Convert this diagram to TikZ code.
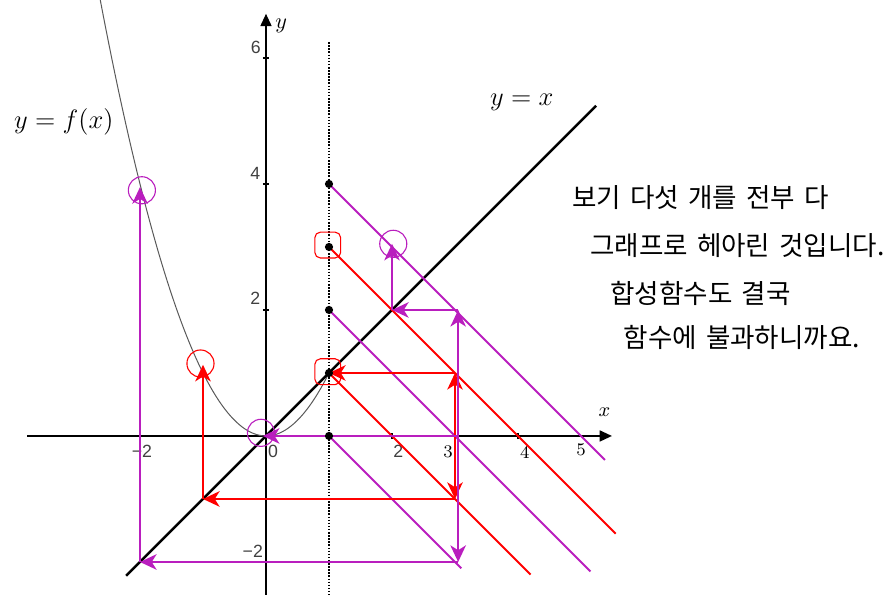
\documentclass[tikz,border=0pt]{standalone}
\usepackage{fontspec}
\newfontfamily\krfont{Noto Sans CJK KR}
\newfontfamily\axfont{Liberation Sans}
\usetikzlibrary{positioning,arrows.meta,calc}
\definecolor{magL}{RGB}{185,30,190}
\newcommand\krset{\krfont\fontsize{12}{14}\selectfont\spaceskip=0.34em\relax}

\begin{document}
\begin{tikzpicture}[every node/.style={font=\small},
    magline/.style={draw=magL,line width=0.9pt},
    redline/.style={draw=red,line width=0.9pt},
    arr/.style={-{Stealth[length=7.5pt,width=7pt,inset=2.2pt]}},
    blackdot/.style={circle,fill=black,inner sep=0pt,minimum size=0.13cm},
    mark circ/.style={circle,line width=0.5pt,minimum size=0.43cm,inner sep=0pt},
    mark box/.style={draw=red,line width=0.5pt,rounded corners=2.5pt,minimum size=0.41cm,inner sep=0pt},
    numlab/.style={inner sep=0pt,text=black!75,font=\axfont\fontsize{8}{9}\selectfont},
    cmlab/.style={inner sep=0pt,font=\fontsize{8}{9}\selectfont},
    krline/.style={anchor=west,inner sep=0pt,font=\krset}]
  \useasboundingbox (-4.222,-2.524) rectangle (9.92,6.92);
  % axes
  \coordinate (xl) at (-3.79,0); \coordinate (xr) at (5.49,0);
  \coordinate (yb) at (0,-2.524); \coordinate (yt) at (0,6.7);
  \draw[line width=0.6pt,-{Triangle[length=5.5pt,width=5pt]}] (xl)--(xr);
  \draw[line width=0.6pt,-{Triangle[length=5.5pt,width=5pt]}] (yb)--(yt);
  \foreach \t in {-2,2,4} \draw[line width=0.5pt] (\t,-0.05)--(\t,0.05);
  \foreach \t in {-2,2,4,6} \draw[line width=0.5pt] (-0.05,\t)--(0.05,\t);
  \node[numlab] (txm2) at (-1.97,-0.24) {−2};
  \node[numlab] (tx0) at (0.11,-0.25) {0};
  \node[numlab] (tx2) at (2.1,-0.24) {2};
  \node[cmlab] (tx3) at (2.89,-0.25) {3};
  \node[cmlab] (tx4) at (4.11,-0.27) {4};
  \node[cmlab] (tx5) at (5.0,-0.22) {5};
  \node[numlab] (ty6) at (-0.16,6.17) {6};
  \node[numlab] (ty4) at (-0.17,4.17) {4};
  \node[numlab] (ty2) at (-0.17,2.19) {2};
  \node[numlab] (tym2) at (-0.21,-1.83) {−2};
  \node[font=\fontsize{9}{10}\selectfont] (xlab) at (5.37,0.37) {$x$};
  \node[font=\fontsize{10}{12}\selectfont] (ylab) at (0.24,6.51) {$y$};
  % graph of f and the line y=x
  \draw[black!65,line width=0.45pt,domain=-2.63:1,samples=80] plot (\x,{\x*\x});
  \coordinate (dl) at (-2.22,-2.22); \coordinate (dr) at (5.24,5.24);
  \draw[line width=1.1pt] (dl)--(dr);
  \coordinate (vt) at (1,6.25); \coordinate (vb) at (1,-2.524);
  \draw[line width=0.7pt,dash pattern=on 0.7pt off 0.7pt] (vt)--(vb);
  \node[font=\fontsize{12}{14}\selectfont] (flab) at (-3.21,4.98) {$y=f(x)$};
  \node[font=\fontsize{12}{14}\selectfont] (idlab) at (4.06,5.29) {$y=x$};
  % the five lines
  \foreach \k in {0,...,4} \coordinate (a\k) at (1,\k);
  \coordinate (e4) at (5.38,-0.38); \coordinate (e3) at (5.55,-1.55);
  \coordinate (e2) at (5.15,-2.15); \coordinate (e1) at (4.2,-2.2);
  \coordinate (e0) at (3.1,-2.1);
  \draw[magline] (a4)--(e4); \draw[redline] (a3)--(e3); \draw[magline] (a2)--(e2);
  \draw[redline] (a1)--(e1); \draw[magline] (a0)--(e0);
  % red steps
  \coordinate (r0) at (3,0); \coordinate (r1) at (3,1); \coordinate (rm) at (3,-1);
  \coordinate (rn) at (-1,-1); \coordinate (rf) at (-1,1.13);
  \draw[redline,arr] (r0)--(r1); \draw[redline,arr] (r0)--(rm);
  \draw[redline,arr] (r1)--(a1); \draw[redline,arr] (rm)--(rn); \draw[redline,arr] (rn)--(rf);
  % magenta steps
  \coordinate (m0) at (3.05,0); \coordinate (m1) at (3.05,2); \coordinate (mm) at (3.05,-2);
  \coordinate (mq) at (2,2); \coordinate (mt) at (2,3.05);
  \coordinate (mn) at (-2,-2); \coordinate (mf) at (-2,3.95); \coordinate (mo) at (-0.05,0);
  \draw[magline,arr] (m0)--(m1); \draw[magline,arr] (m0)--(mm); \draw[magline,arr] (m0)--(mo);
  \draw[magline,arr] (m1)--(mq); \draw[magline,arr] (mq)--(mt);
  \draw[magline,arr] (mm)--(mn); \draw[magline,arr] (mn)--(mf);
  % marks
  \node[mark circ,draw=magL] (cma) at (-1.97,3.9) {};
  \node[mark circ,draw=red] (cra) at (-1.04,1.15) {};
  \node[mark circ,draw=magL] (cmb) at (-0.08,0.05) {};
  \node[mark circ,draw=magL] (cmc) at (2.02,3.05) {};
  \node[mark box] (sqa) at (0.98,3.03) {};
  \node[mark box] (sqb) at (0.98,1.02) {};
  \foreach \k in {0,...,4} \node[blackdot] (dot\k) at (a\k) {};
  % text
  \node[krline] (kra) at (4.857,3.79) {보기 다섯 개를 전부 다};
  \node[krline] (krb) at (5.14,3.03) {그래프로 헤아린 것입니다.};
  \node[krline] (krc) at (5.46,2.27) {합성함수도 결국};
  \node[krline] (krd) at (5.67,1.57) {함수에 불과하니까요.};
\end{tikzpicture}
\end{document}
